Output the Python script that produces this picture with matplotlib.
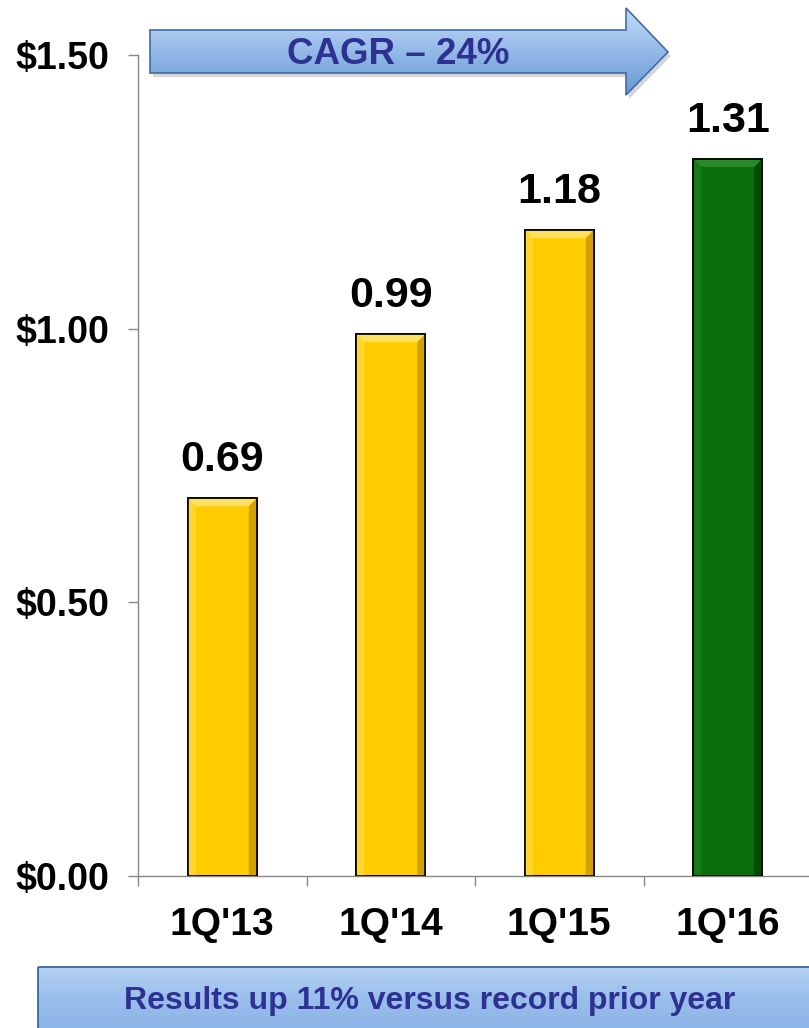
import matplotlib
matplotlib.use("Agg")
import matplotlib.pyplot as plt
import numpy as np
from matplotlib.patches import Polygon, Rectangle
from matplotlib.colors import LinearSegmentedColormap

quarters = ["1Q'13", "1Q'14", "1Q'15", "1Q'16"]
eps = [0.69, 0.99, 1.18, 1.31]
bar_colors = ["#FFCC00", "#FFCC00", "#FFCC00", "#0A6E0A"]
yticks = [0.0, 0.5, 1.0, 1.5]
ytick_labels = ["$0.00", "$0.50", "$1.00", "$1.50"]
arrow_text = "CAGR \u2013 24%"
box_text = "Results up 11% versus record prior year"

# bevel shades per bar colour: top, left, right
bevel = {
    "#FFCC00": ["#FFE060", "#FFD530", "#D4A200"],
    "#0A6E0A": ["#2A8A2A", "#167A16", "#044E04"],
}

plt.rcParams["font.family"] = ["Liberation Sans", "DejaVu Sans"]
plt.rcParams["font.weight"] = "bold"

W, H = 809, 1028
fig = plt.figure(figsize=(W / 100, H / 100), dpi=100)
ax = fig.add_axes([138 / W, 1 - 876 / H, 674 / W, 821 / H])

x = np.arange(len(quarters))
bars = ax.bar(x, eps, width=0.41, color=bar_colors, edgecolor="black", linewidth=1.2, zorder=3)

for b, v in zip(bars, eps):
    ax.text(b.get_x() + b.get_width() / 2, v + 0.033, f"{v:.2f}", ha="center", va="bottom",
            fontsize=31, fontweight="bold", color="black")

ax.set_xlim(-0.5, len(quarters) - 0.5)
ax.set_ylim(0, 1.5)
ax.set_yticks(yticks)
ax.set_yticklabels(ytick_labels, fontsize=27, fontweight="bold")
ax.set_xticks(x)
ax.set_xticklabels(quarters, fontsize=28, fontweight="bold")
ax.set_xticks(np.arange(len(quarters) + 1) - 0.5, minor=True)
ax.tick_params(axis="x", which="major", length=0, pad=22)
ax.tick_params(axis="x", which="minor", length=7, width=1, color="#888888")
ax.tick_params(axis="y", length=7, width=1, color="#888888", pad=14)
for s in ["top", "right"]:
    ax.spines[s].set_visible(False)
for s in ["left", "bottom"]:
    ax.spines[s].set_color("#888888")
    ax.spines[s].set_linewidth(1)

# bevel shading on the bars, from each bar's own extent
bw = 8
for b, c in zip(bars, bar_colors):
    (x0, y0), (x1, y1) = ax.transData.transform([(b.get_x(), 0), (b.get_x() + b.get_width(), b.get_height())])
    top, left, right = bevel[c]
    shapes = [
        ([(x0, y1), (x1, y1), (x1 - bw, y1 - bw), (x0 + bw, y1 - bw)], top),
        ([(x0, y1), (x0 + bw, y1 - bw), (x0 + bw, y0), (x0, y0)], left),
        ([(x1, y1), (x1 - bw, y1 - bw), (x1 - bw, y0), (x1, y0)], right),
    ]
    for pts, col in shapes:
        ax.add_patch(Polygon(pts, closed=True, transform=None, facecolor=col, edgecolor="none", zorder=3.5))
    ax.add_patch(Rectangle((x0, y0), x1 - x0, y1 - y0, transform=None, facecolor="none",
                           edgecolor="black", linewidth=1.2, zorder=4))

# overlay in pixel coordinates for the callouts
ov = fig.add_axes([0, 0, 1, 1], zorder=5)
ov.axis("off")
ov.patch.set_alpha(0)

grad = np.linspace(0, 1, 64).reshape(-1, 1)
blue = LinearSegmentedColormap.from_list("b", ["#C4DBF7", "#93B9E8", "#6A98D6"])
blue2 = LinearSegmentedColormap.from_list("b2", ["#B5D0F3", "#9ABFEC", "#8DB4E6"])

arrow = [(150, 30), (626, 30), (626, 8), (668, 52), (626, 95), (626, 73), (150, 73)]
shadow = [(px + 3, py + 4) for px, py in arrow]
ov.add_patch(Polygon(shadow, closed=True, facecolor="#BBBBBB", edgecolor="none", alpha=0.6, zorder=4))
p = Polygon(arrow, closed=True, facecolor="none", edgecolor="#3F6CA8", linewidth=1.2, zorder=6)
ov.add_patch(p)
im = ov.imshow(grad, cmap=blue, extent=(150, 668, 95, 8), aspect="auto", zorder=5)
im.set_clip_path(p)
ov.text(398, 54, arrow_text, ha="center", va="center", fontsize=26.5, fontweight="bold",
        color="#2E3192", zorder=7)

box = Rectangle((38, 967), 790, 80, facecolor="none", edgecolor="#2F5E9E", linewidth=1.2, zorder=6)
ov.add_patch(box)
im2 = ov.imshow(grad, cmap=blue2, extent=(38, 828, 1028, 967), aspect="auto", zorder=5)
im2.set_clip_path(box)
ov.text(430, 1001, box_text, ha="center", va="center", fontsize=23, fontweight="bold",
        color="#2E3192", zorder=7)
ov.set_xlim(0, W)
ov.set_ylim(H, 0)

fig.savefig("out.png", dpi=100)
